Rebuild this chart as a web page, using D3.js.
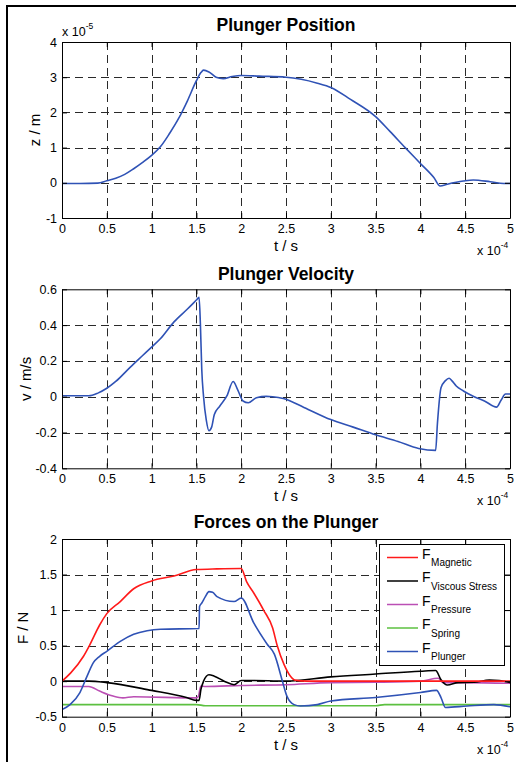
<!DOCTYPE html>
<html><head><meta charset="utf-8">
<script src="https://cdn.jsdelivr.net/npm/d3@7"></script>
<style>body{margin:0;background:#fff}svg{display:block}text{font-family:"Liberation Sans",Arial,sans-serif}</style>
</head><body><svg id="c" width="516" height="762"></svg>
<script>
// ---------- data ----------
const xTicks = [0,0.5,1,1.5,2,2.5,3,3.5,4,4.5,5];
const posTicks = [-1,0,1,2,3,4];
const velTicks = [-0.4,-0.2,0,0.2,0.4,0.6];
const forceTicks = [-0.5,0,0.5,1,1.5,2];

// Plunger position (t in 1e-4 s, z in 1e-5 m)
const tPos = [0,0.2,0.4,0.5,0.6,0.7,0.8,0.9,1.0,1.1,1.2,1.3,1.4,1.5,1.55,1.58,1.64,1.72,1.8,1.9,2.0,2.2,2.5,2.67,2.85,3.0,3.22,3.5,3.66,3.83,4.0,4.15,4.22,4.3,4.48,4.59,4.78,4.93,5.0];
const zPos = [-0.02,-0.02,-0.01,0.06,0.13,0.24,0.4,0.58,0.78,1.03,1.4,1.82,2.33,2.9,3.13,3.2,3.15,3.0,2.96,3.02,3.05,3.03,3.0,2.94,2.83,2.71,2.37,1.88,1.46,1.0,0.55,0.15,-0.09,-0.04,0.05,0.08,0.03,-0.02,-0.02];

// Plunger velocity (m/s)
const tVel = [0,0.3,0.4,0.5,0.6,0.76,0.9,1.0,1.1,1.25,1.4,1.5,1.53,1.545,1.56,1.58,1.61,1.64,1.67,1.7,1.76,1.84,1.91,1.96,2.02,2.08,2.17,2.28,2.35,2.47,2.7,3.0,3.25,3.5,3.75,3.98,4.17,4.19,4.23,4.28,4.32,4.35,4.4,4.48,4.6,4.72,4.85,4.9,4.95,5.0];
const vVel = [0.005,0.005,0.02,0.047,0.085,0.164,0.23,0.277,0.325,0.418,0.49,0.54,0.555,0.4,0.15,0.0,-0.13,-0.19,-0.17,-0.1,-0.053,0.004,0.085,0.04,-0.024,-0.034,-0.006,0.002,0.0,-0.01,-0.06,-0.128,-0.17,-0.213,-0.25,-0.289,-0.3,-0.15,0.05,0.09,0.103,0.09,0.06,0.032,0.0,-0.025,-0.058,-0.02,0.015,0.015];

// Forces (N)
const tMag = [0,0.1,0.24,0.31,0.42,0.5,0.65,0.8,1.0,1.25,1.5,1.73,2.0,2.06,2.14,2.25,2.35,2.4,2.48,2.55,2.6,2.73,3.0,4.0,5.0];
const fMag = [0,0.12,0.35,0.51,0.79,0.95,1.12,1.3,1.41,1.48,1.57,1.58,1.585,1.4,1.24,1.0,0.75,0.51,0.23,0.07,0.015,0,0,0,0];
const tVis = [0,0.3,0.5,1.0,1.39,1.5,1.53,1.55,1.58,1.64,1.7,1.81,1.92,2.0,2.1,2.5,3.0,3.5,4.0,4.17,4.23,4.3,4.42,4.6,4.77,4.88,5.0];
const fVis = [0,0,-0.02,-0.13,-0.23,-0.27,-0.27,-0.12,0,0.09,0.07,0,-0.05,0.01,0.01,0,0.06,0.1,0.14,0.15,0.02,-0.055,-0.02,-0.015,0.015,0.01,-0.02];
const tPre = [0,0.3,0.42,0.57,0.68,0.8,1.5,1.52,1.55,1.6,2.0,2.5,3.0,3.5,4.0,4.2,4.25,4.5,5.0];
const fPre = [-0.075,-0.075,-0.14,-0.21,-0.235,-0.22,-0.235,-0.22,-0.07,-0.075,-0.06,-0.05,-0.02,-0.015,0,0.04,-0.02,-0.02,-0.03];
const tSpr = [0,1.5,1.6,3.5,3.6,5.0];
const fSpr = [-0.33,-0.33,-0.345,-0.345,-0.33,-0.33];
const tPlg = [0,0.09,0.2,0.28,0.35,0.42,0.5,0.65,0.8,0.95,1.1,1.53,1.535,1.56,1.6,1.64,1.68,1.73,1.92,2.0,2.14,2.29,2.37,2.46,2.51,2.59,2.66,2.85,3.0,3.5,4.0,4.18,4.23,4.28,4.52,4.82,5.0];
const fPlg = [-0.4,-0.33,-0.16,0.07,0.26,0.35,0.42,0.56,0.66,0.71,0.73,0.74,1.05,1.1,1.19,1.26,1.25,1.19,1.12,1.17,0.82,0.52,0.38,0.0,-0.21,-0.33,-0.35,-0.33,-0.28,-0.23,-0.16,-0.13,-0.23,-0.37,-0.35,-0.33,-0.36];

const legendNames = ["Magnetic","Viscous Stress","Pressure","Spring","Plunger"];
const colors = ["#ff1a1a","#000000","#bb4fb4","#5cc040","#2f52b5"];

// ---------- drawing ----------
const svg = d3.select("#c");
svg.append("rect").attr("width",516).attr("height",762).attr("fill","#fff");
svg.append("path").attr("d","M7,762V6H516").attr("fill","none").attr("stroke","#000").attr("stroke-width",2);

const x = d3.scaleLinear().domain([0,5]).range([62,510]);
const fmt = d => String(+(+d).toFixed(2));
const FONT = '"Liberation Sans",Arial,sans-serif';

function panel(cfg){
  const {top,bottom,domain,ticks,title,titleY,ylabel,ylabelX,series,id} = cfg;
  const y = d3.scaleLinear().domain(domain).range([bottom,top]);
  const g = svg.append("g");
  g.append("rect").attr("x",x(0)).attr("y",top).attr("width",x(5)-x(0)).attr("height",bottom-top).attr("fill","#fff");
  // grid
  g.selectAll(null).data(xTicks.slice(1,-1)).enter().append("line")
    .attr("x1",d=>Math.round(x(d))+0.5).attr("x2",d=>Math.round(x(d))+0.5)
    .attr("y1",top).attr("y2",bottom)
    .attr("stroke","#2a2a2a").attr("stroke-dasharray","8,5");
  g.selectAll(null).data(ticks.slice(1,-1)).enter().append("line")
    .attr("y1",d=>Math.round(y(d))+0.5).attr("y2",d=>Math.round(y(d))+0.5)
    .attr("x1",x(0)).attr("x2",x(5))
    .attr("stroke","#2a2a2a").attr("stroke-dasharray","8,5");
  // clip
  svg.append("clipPath").attr("id",id).append("rect")
    .attr("x",x(0)).attr("y",top).attr("width",x(5)-x(0)).attr("height",bottom-top);
  const line = d3.line().x(d=>x(d[0])).y(d=>y(d[1])).curve(d3.curveMonotoneX);
  series.forEach(s=>{
    g.append("path").datum(s.t.map((t,i)=>[t,s.v[i]]))
      .attr("d",line).attr("fill","none").attr("stroke",s.color)
      .attr("stroke-width",1.6).attr("stroke-linejoin","round")
      .attr("clip-path",`url(#${id})`);
  });
  // axes
  const ax = [
    [d3.axisBottom(x).tickValues(xTicks).tickSize(-5).tickSizeOuter(0).tickPadding(6).tickFormat(fmt), `translate(0,${bottom})`],
    [d3.axisTop(x).tickValues(xTicks).tickSize(-5).tickSizeOuter(0).tickFormat(""), `translate(0,${top})`],
    [d3.axisLeft(y).tickValues(ticks).tickSize(-5).tickSizeOuter(0).tickPadding(5).tickFormat(fmt), `translate(${x(0)},0)`],
    [d3.axisRight(y).tickValues(ticks).tickSize(-5).tickSizeOuter(0).tickFormat(""), `translate(${x(5)},0)`]
  ];
  ax.forEach(([a,tr])=>{
    const ag = g.append("g").attr("transform",tr).call(a);
    ag.attr("font-size",12.5).attr("font-family",FONT);
    ag.selectAll("text").attr("fill","#000");
    ag.selectAll("path,line").attr("stroke","#000");
  });
  // title
  g.append("text").attr("x",286).attr("y",titleY).attr("text-anchor","middle")
    .attr("font-weight","bold").attr("font-size",17.5).text(title);
  // labels
  g.append("text").attr("x",286).attr("y",bottom+33).attr("text-anchor","middle")
    .attr("font-size",15).text("t / s");
  const xe = g.append("text").attr("x",477).attr("y",bottom+37).attr("font-size",12.5);
  xe.append("tspan").text("x 10");
  xe.append("tspan").attr("font-size",8.5).attr("dy",-7).text("-4");
  g.append("text").attr("transform",`translate(${ylabelX},${(top+bottom)/2}) rotate(-90)`)
    .attr("text-anchor","middle").attr("font-size",15).text(ylabel);
  return y;
}

panel({top:42,bottom:218,domain:[-1,4],ticks:posTicks,title:"Plunger Position",titleY:31,
  ylabel:"z / m",ylabelX:40,id:"c1",series:[{t:tPos,v:zPos,color:colors[4]}]});
const ye = svg.append("text").attr("x",62).attr("y",36).attr("font-size",12.5);
ye.append("tspan").text("x 10");
ye.append("tspan").attr("font-size",8.5).attr("dy",-7).text("-5");

panel({top:289.3,bottom:468.3,domain:[-0.4,0.6],ticks:velTicks,title:"Plunger Velocity",titleY:279.5,
  ylabel:"v / m/s",ylabelX:31,id:"c2",series:[{t:tVel,v:vVel,color:colors[4]}]});

panel({top:539,bottom:716.7,domain:[-0.5,2],ticks:forceTicks,title:"Forces on the Plunger",titleY:528,
  ylabel:"F / N",ylabelX:28,id:"c3",series:[
    {t:tSpr,v:fSpr,color:colors[3]},
    {t:tPre,v:fPre,color:colors[2]},
    {t:tVis,v:fVis,color:colors[1]},
    {t:tMag,v:fMag,color:colors[0]},
    {t:tPlg,v:fPlg,color:colors[4]}
  ]});

// legend
const lg = svg.append("g");
lg.append("rect").attr("x",379.5).attr("y",544.5).attr("width",125).attr("height",121)
  .attr("fill","#fff").attr("stroke","#000");
const rowY = d3.scalePoint().domain(legendNames).range([557.5,651.5]);
legendNames.forEach((n,i)=>{
  const yy = rowY(n);
  lg.append("line").attr("x1",387).attr("x2",418).attr("y1",yy).attr("y2",yy)
    .attr("stroke",colors[i]).attr("stroke-width",1.5);
  const t = lg.append("text").attr("x",422).attr("y",yy+1).attr("font-size",14);
  t.append("tspan").text("F");
  t.append("tspan").attr("font-size",10).attr("dx",0.5).attr("dy",7.5).text(n);
});
</script></body></html>
